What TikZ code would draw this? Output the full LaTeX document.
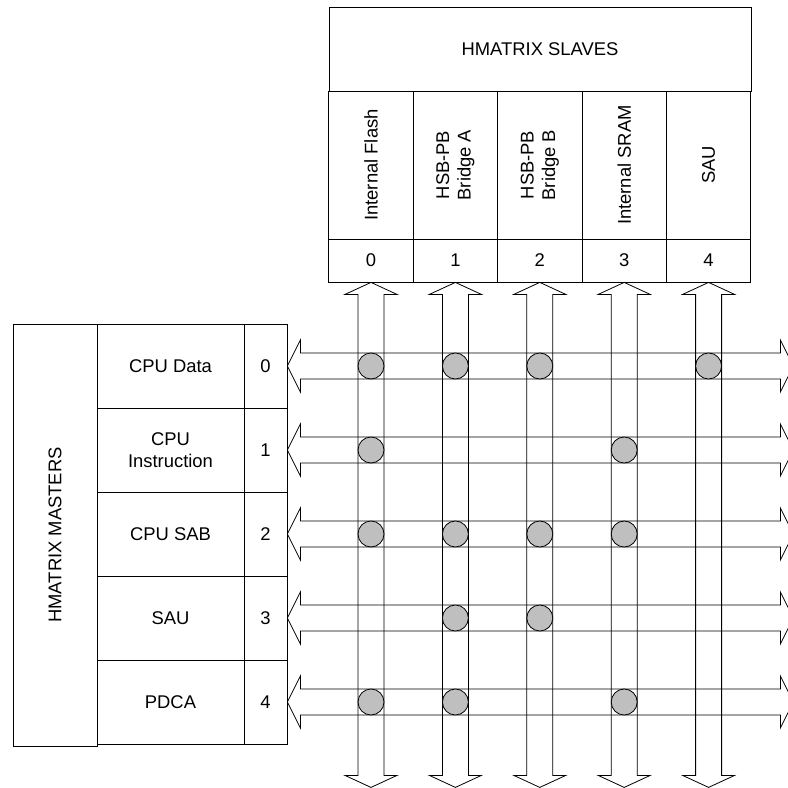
\documentclass[tikz,border=0pt]{standalone}
\usepackage{fontspec}
\setmainfont{Liberation Sans}
\usetikzlibrary{positioning}

\tikzset{
    cell/.style={draw, inner sep=0pt, align=center,
        font=\fontsize{18.4}{21.5}\selectfont},
    bus/.style={draw, line width=0.8pt, line join=miter},
    tap/.style={circle, draw, fill=black!25, inner sep=0pt, minimum size=26}
}

\begin{document}
\begin{tikzpicture}[x=1pt, y=-1pt, line width=0.8pt]
    \clip (0,0) rectangle (788,788);

    % slaves
    \node[cell, minimum width=422, minimum height=84] (slaves) at (540,49) {HMATRIX SLAVES};
    \foreach \i/\name in {0/Internal Flash, 1/HSB-PB\\Bridge A, 2/HSB-PB\\Bridge B,
                          3/Internal SRAM, 4/SAU} {
        \node[cell, rotate=90, minimum width=148, minimum height=84.4]
            (sn\i) at ({371+84.4*\i},165) {\name};
        \node[cell, minimum width=84.4, minimum height=43]
            (sk\i) at ({371+84.4*\i},260.5) {\i};
    }

    % masters
    \node[cell, rotate=90, minimum width=422, minimum height=84] (masters) at (55,535) {HMATRIX MASTERS};
    \foreach \j/\name in {0/CPU Data, 1/CPU\\Instruction, 2/CPU SAB, 3/SAU, 4/PDCA} {
        \node[cell, minimum width=147, minimum height=84]
            (mn\j) at (170.5,{366+84*\j}) {\name};
        \node[cell, minimum width=43, minimum height=84]
            (mk\j) at (265.5,{366+84*\j}) {\j};
    }

    % vertical buses
    \foreach \i in {0,...,4}
        \draw[bus] (sk\i.south) -- ++(26,12) -- ++(-13,0) -- ++(0,481) -- ++(13,0)
            -- ++(-26,12) -- ++(-26,-12) -- ++(13,0) -- ++(0,-481) -- ++(-13,0) -- cycle;

    % horizontal buses
    \foreach \j in {0,...,4}
        \draw[bus] (mk\j.east) -- ++(13,-26) -- ++(0,13) -- ++(480,0) -- ++(0,-13)
            -- ++(13,26) -- ++(-13,26) -- ++(0,-13) -- ++(-480,0) -- ++(0,13) -- cycle;

    % connections
    \foreach \j/\cols in {0/{0,1,2,4}, 1/{0,3}, 2/{0,1,2,3}, 3/{1,2}, 4/{0,1,3}}
        \foreach \i in \cols
            \node[tap] (t\j\i) at (sk\i.south |- mk\j.east) {};
\end{tikzpicture}
\end{document}
